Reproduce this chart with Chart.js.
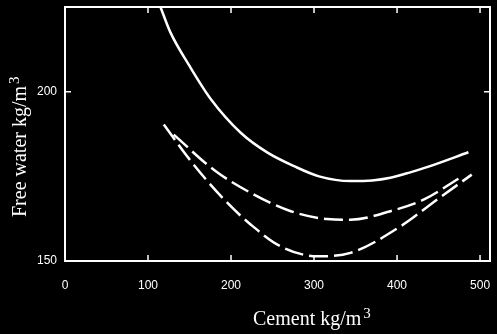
<!DOCTYPE html>
<html>
<head>
<meta charset="utf-8">
<script src="https://cdn.jsdelivr.net/npm/chart.js@4"></script>
<style>
  html, body { margin: 0; padding: 0; background: #000; }
  #wrap { width: 497px; height: 334px; }
</style>
</head>
<body>
<div id="wrap"><canvas id="myChart"></canvas></div>
<script>
// valori (cemento kg/m3 -> acqua libera kg/m3)
const solidX = [115, 127, 150, 176, 212, 244, 276, 306, 344, 370, 392, 415, 436, 486]
const solidY = [225, 217.5, 207.6, 197.7, 187.8, 182, 178, 175, 173.6, 173.8, 174.6, 176.1, 177.7, 182.1]

const midX = [131, 180, 224, 272, 316, 344, 392, 432, 474]
const midY = [187.3, 176.8, 170.1, 164.7, 162.4, 162.2, 164.7, 168.1, 174.3]

const lowX = [119, 150, 190, 224, 260, 304, 344, 404, 448, 490]
const lowY = [190.3, 180, 168.6, 160.7, 154.3, 151.4, 152.4, 160.2, 168.1, 175.5]

const tickX = [0, 100, 200, 300, 400, 500]
const tickY = [150, 200]
const xTitle = "Cement kg/m"
const yTitle = "Free water kg/m"
const supText = "3"

function punti(xs, ys) {
  return xs.map((x, i) => ({ x: x, y: ys[i] }))
}

// cornice bianca, tacche verso l'interno e titoli degli assi
const cornice = {
  id: 'cornice',
  afterDraw(chart) {
    const c = chart.ctx
    const a = chart.chartArea
    const sx = chart.scales.x
    const sy = chart.scales.y
    c.save()
    c.strokeStyle = '#fff'
    c.lineWidth = 2
    c.strokeRect(a.left, a.top, a.right - a.left, a.bottom - a.top)
    c.lineWidth = 1.5
    c.beginPath()
    tickX.forEach(v => {
      if (v == 0) return
      const px = sx.getPixelForValue(v)
      c.moveTo(px, a.bottom); c.lineTo(px, a.bottom - 6)
      c.moveTo(px, a.top); c.lineTo(px, a.top + 6)
    })
    tickY.forEach(v => {
      const py = sy.getPixelForValue(v)
      c.moveTo(a.left, py); c.lineTo(a.left + 6, py)
      c.moveTo(a.right, py); c.lineTo(a.right - 6, py)
    })
    c.stroke()

    c.fillStyle = '#fff'
    c.textBaseline = 'alphabetic'
    c.textAlign = 'left'
    // titolo asse x
    c.font = '20px "Liberation Serif", serif'
    c.fillText(xTitle, 253, 325)
    let w = c.measureText(xTitle).width
    c.font = '15px "Liberation Serif", serif'
    c.fillText(supText, 253 + w + 2, 318)
    // titolo asse y
    c.translate(26, 217)
    c.rotate(-Math.PI / 2)
    c.font = '20px "Liberation Serif", serif'
    c.fillText(yTitle, 0, 0)
    w = c.measureText(yTitle).width
    c.font = '15px "Liberation Serif", serif'
    c.fillText(supText, w + 2, -7)
    c.restore()
  }
}

const linea = {
  borderColor: '#fff',
  borderWidth: 2.5,
  pointRadius: 0,
  fill: false,
  cubicInterpolationMode: 'monotone'
}

const ctx = document.getElementById('myChart').getContext('2d')
const myChart = new Chart(ctx, {
  type: 'line',
  data: {
    datasets: [
      Object.assign({ label: 'solid', data: punti(solidX, solidY) }, linea),
      Object.assign({ label: 'mid', data: punti(midX, midY), borderDash: [19, 6] }, linea),
      Object.assign({ label: 'low', data: punti(lowX, lowY), borderDash: [19, 6] }, linea)
    ]
  },
  options: {
    responsive: true,
    maintainAspectRatio: false,
    animation: false,
    layout: { padding: { left: 0, right: 7, top: 7, bottom: 0 } },
    plugins: {
      legend: { display: false },
      tooltip: { enabled: false }
    },
    scales: {
      x: {
        type: 'linear',
        min: 0,
        max: 512,
        afterBuildTicks: s => { s.ticks = tickX.map(v => ({ value: v })) },
        afterFit: s => { s.height = 73; s.paddingLeft = 0; s.paddingRight = 0 },
        grid: { display: false, drawTicks: false },
        border: { display: false },
        ticks: {
          color: '#fff',
          padding: 17,
          maxRotation: 0,
          font: { family: '"Liberation Sans", Arial, sans-serif', size: 12 }
        }
      },
      y: {
        type: 'linear',
        min: 150,
        max: 225,
        afterBuildTicks: s => { s.ticks = tickY.map(v => ({ value: v })) },
        afterFit: s => { s.width = 65; s.paddingTop = 0; s.paddingBottom = 0 },
        grid: { display: false, drawTicks: false },
        border: { display: false },
        ticks: {
          color: '#fff',
          padding: 8,
          font: { family: '"Liberation Sans", Arial, sans-serif', size: 12 }
        }
      }
    }
  },
  plugins: [cornice]
})
</script>
</body>
</html>
